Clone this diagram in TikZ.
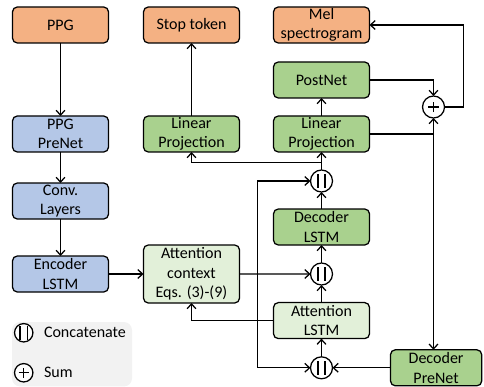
\documentclass[tikz,border=0pt]{standalone}
\usepackage{fontspec}
\setmainfont{Carlito}
\usetikzlibrary{positioning,arrows.meta,calc}
\definecolor{ioorange}{HTML}{F4B183}
\definecolor{encblue}{HTML}{B4C7E7}
\definecolor{decgreen}{HTML}{A9D18E}
\definecolor{attgreen}{HTML}{E2F0D9}
\definecolor{legendgray}{HTML}{F2F2F2}
\newcommand{\blkfont}{\fontsize{11.4}{13.8}\selectfont}
\tikzset{
  block/.style={draw, rounded corners=1.2mm, line width=0.9pt, font=\blkfont, outer sep=0pt,
    align=center, minimum width=24mm, minimum height=9mm, inner xsep=1mm, inner ysep=0pt},
  io/.style={block, fill=ioorange},
  encblk/.style={block, fill=encblue},
  decblk/.style={block, fill=decgreen},
  attblk/.style={block, fill=attgreen},
  concat/.style={draw, circle, fill=white, line width=0.9pt, minimum size=5.5mm, inner sep=0pt, outer sep=0pt,
    path picture={
      \draw[line width=0.9pt] ([shift={(-0.9mm,-1.7mm)}]path picture bounding box.center) -- ++(0,3.4mm);
      \draw[line width=0.9pt] ([shift={(0.9mm,-1.7mm)}]path picture bounding box.center) -- ++(0,3.4mm);}},
  sumop/.style={draw, circle, fill=white, line width=0.9pt, minimum size=5.5mm, inner sep=0pt, outer sep=0pt,
    path picture={
      \draw[line width=0.9pt] ([xshift=-1.3mm]path picture bounding box.center) -- ++(2.6mm,0);
      \draw[line width=0.9pt] ([yshift=-1.3mm]path picture bounding box.center) -- ++(0,2.6mm);}},
  legend/.style={fill=legendgray, rounded corners=2mm, minimum width=30mm, minimum height=16.1mm},
  legtext/.style={font=\blkfont, inner sep=0.5mm, anchor=west},
  flow/.style={-{Straight Barb[length=1.2mm, width=2.2mm]}, line width=0.9pt},
  wire/.style={line width=0.9pt},
}
\begin{document}
\begin{tikzpicture}
  \useasboundingbox (0,0) rectangle (121mm,-96.75mm);
  % inputs and outputs
  \node[io] (ppg) at (15.125mm,-6.25mm) {PPG};
  \node[io, right=8.75mm of ppg] (stop) {Stop token};
  \node[io, right=8.5mm of stop] (mel) {Mel\\spectrogram};
  % encoder
  \node[encblk, below=18.25mm of ppg] (ppgpre) {PPG\\PreNet};
  \node[encblk, below=7.75mm of ppgpre] (conv) {Conv.\\Layers};
  \node[encblk, below=9.25mm of conv] (enc) {Encoder\\LSTM};
  % decoder
  \node[decblk, below=18.25mm of stop] (linL) {Linear\\Projection};
  \node[decblk, below=4.75mm of mel] (postnet) {PostNet};
  \node[decblk, below=4.5mm of postnet] (linR) {Linear\\Projection};
  \node[concat, below=4.5mm of linR] (catT) {};
  \node[decblk, below=4.25mm of catT] (declstm) {Decoder\\LSTM};
  \node[concat, below=4.5mm of declstm] (catM) {};
  \node[attblk, below=4.4mm of catM] (attlstm) {Attention\\LSTM};
  \node[concat, below=4.55mm of attlstm] (catB) {};
  \node[attblk, minimum height=14.5mm] (attctx) at (linL |- enc) {Attention\\context\\Eqs. (3)-(9)};
  \node[decblk, minimum width=22.8mm, right=14.5mm of catB] (decpre) {Decoder\\PreNet};
  \node[sumop] (sum) at ($(postnet.east)!0.5!(linR.east)+(16mm,0)$) {};
  % legend
  \node[legend] (leg) at (18mm,-88.56mm) {};
  \node[concat, minimum size=4.6mm] (legcat) at ($(leg.north west)+(3mm,-2.75mm)$) {};
  \node[sumop, minimum size=4.6mm] (legsum) at ($(leg.north west)+(3mm,-12.75mm)$) {};
  \node[legtext, right=2.2mm of legcat.east] (legcattext) {Concatenate};
  \node[legtext, right=2.2mm of legsum.east] (legsumtext) {Sum};
  % encoder flows
  \draw[flow] (ppg) -- (ppgpre);
  \draw[flow] (ppgpre) -- (conv);
  \draw[flow] (conv) -- (enc);
  \draw[flow] (enc) -- (attctx);
  % attention flows
  \coordinate (br) at ($(attctx.east)+(4.5mm,0)$);
  \draw[flow] (attctx) -- (catM);
  \draw[flow] (br) |- (catT);
  \draw[flow] (br) |- (catB);
  \draw[flow] (attlstm.west) -| (attctx.south);
  \draw[flow] (decpre) -- (catB);
  \draw[flow] (catB) -- (attlstm);
  \draw[flow] (attlstm) -- (catM);
  \draw[flow] (catM) -- (declstm);
  \draw[flow] (declstm) -- (catT);
  \draw[flow] (catT) -- (linR);
  \coordinate (jt) at ($(catT.north)!0.4!(linR.south)$);
  \draw[flow] (jt) -| (linL.south);
  \draw[flow] (linL) -- (stop);
  % output flows
  \draw[flow] (linR) -- (postnet);
  \draw[flow] (postnet.east) -| (sum.north);
  \coordinate (jr) at (sum |- linR.east);
  \draw[wire] (linR.east) -- (jr);
  \draw[flow] (jr) -- (sum.south);
  \draw[flow] (jr) -- (jr |- decpre.north);
  \draw[flow] (sum.east) -- ++(4.75mm,0) |- (mel.east);
\end{tikzpicture}
\end{document}
